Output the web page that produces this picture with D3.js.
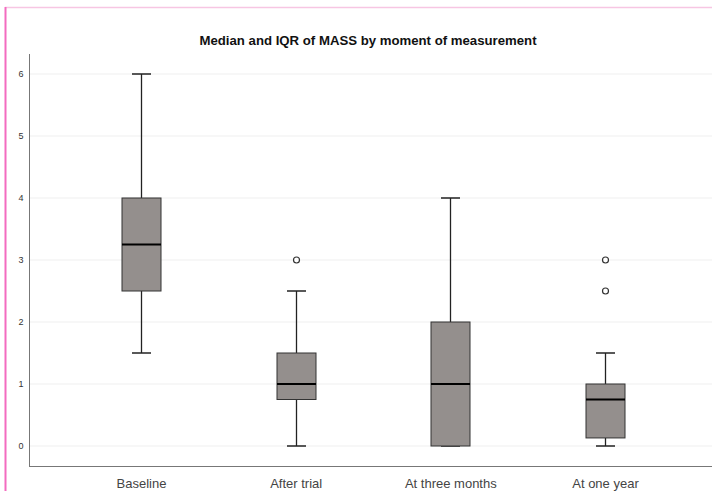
<!DOCTYPE html>
<html><head><meta charset="utf-8">
<script src="https://cdn.jsdelivr.net/npm/d3@7"></script>
<style>body{margin:0;background:#fff}svg{display:block}</style>
</head><body>
<svg id="c" width="714" height="491"></svg>
<script>
const title = "Median and IQR of MASS by moment of measurement";
const categories = ["Baseline", "After trial", "At three months", "At one year"];
const whiskerLow = [1.5, 0, 0, 0];
const q1 = [2.5, 0.75, 0, 0.13];
const median = [3.25, 1, 1, 0.75];
const q3 = [4, 1.5, 2, 1];
const whiskerHigh = [6, 2.5, 4, 1.5];
const outliers = [[], [3], [], [2.5, 3]];
const yTicks = [0, 1, 2, 3, 4, 5, 6];

const svg = d3.select("#c");
const font = "'Liberation Sans', Arial, sans-serif";

// frame decorations
svg.append("line").attr("x1",5).attr("x2",712).attr("y1",7.5).attr("y2",7.5)
  .attr("stroke","#f7c6e3").attr("stroke-width",1.5);
svg.append("line").attr("x1",5.5).attr("x2",5.5).attr("y1",7).attr("y2",491)
  .attr("stroke","#f36cc0").attr("stroke-width",2);

const y = d3.scaleLinear().domain([0, 6]).range([446, 74]);
const x = d3.scalePoint().domain(categories).range([141, 605]);

// gridlines
svg.append("g").selectAll("line").data(yTicks).join("line")
  .attr("x1", 30).attr("x2", 712)
  .attr("y1", d => y(d)).attr("y2", d => y(d))
  .attr("stroke", "#efefef").attr("stroke-width", 1);

// y axis
const ya = svg.append("g").attr("transform","translate(29.5,0)")
  .call(d3.axisLeft(y).tickValues(yTicks).tickSize(0).tickPadding(6).tickFormat(d3.format("d")));
ya.select(".domain").remove();
ya.selectAll("text").attr("font-family", font).attr("font-size", 9).attr("fill", "#333");
svg.append("line").attr("x1",29.5).attr("x2",29.5).attr("y1",54).attr("y2",466)
  .attr("stroke","#777").attr("stroke-width",1);

// x axis
const xa = svg.append("g").attr("transform","translate(0,466.5)")
  .call(d3.axisBottom(x).tickSize(0).tickPadding(12));
xa.select(".domain").remove();
xa.selectAll("text").attr("font-family", font).attr("font-size", 13).attr("fill", "#444");
svg.append("line").attr("x1",29).attr("x2",712).attr("y1",466.5).attr("y2",466.5)
  .attr("stroke","#777").attr("stroke-width",1);

const boxW = 39, capW = 19;
const g = svg.append("g");
categories.forEach((c, i) => {
  const cx = Math.round(x(c)) + 0.5;
  g.append("line").attr("x1",cx).attr("x2",cx).attr("y1",y(q3[i])).attr("y2",y(whiskerHigh[i]))
    .attr("stroke","#222").attr("stroke-width",1.3);
  g.append("line").attr("x1",cx).attr("x2",cx).attr("y1",y(q1[i])).attr("y2",y(whiskerLow[i]))
    .attr("stroke","#222").attr("stroke-width",1.3);
  [whiskerHigh[i], whiskerLow[i]].forEach(v => {
    g.append("line").attr("x1",cx-capW/2).attr("x2",cx+capW/2).attr("y1",y(v)).attr("y2",y(v))
      .attr("stroke","#222").attr("stroke-width",1.5);
  });
  g.append("rect").attr("x",cx-boxW/2).attr("width",boxW)
    .attr("y",y(q3[i])).attr("height",y(q1[i])-y(q3[i]))
    .attr("fill","#948f8d").attr("stroke","#333").attr("stroke-width",1);
  g.append("line").attr("x1",cx-boxW/2).attr("x2",cx+boxW/2).attr("y1",y(median[i])).attr("y2",y(median[i]))
    .attr("stroke","#000").attr("stroke-width",2);
  outliers[i].forEach(v => {
    g.append("circle").attr("cx",cx).attr("cy",y(v)).attr("r",3)
      .attr("fill","#fff").attr("stroke","#333").attr("stroke-width",1.2);
  });
});

svg.append("text").attr("x",368).attr("y",45).attr("text-anchor","middle")
  .attr("font-family",font).attr("font-weight","bold").attr("font-size",13.2).attr("fill","#111")
  .text(title);
</script>
</body></html>
